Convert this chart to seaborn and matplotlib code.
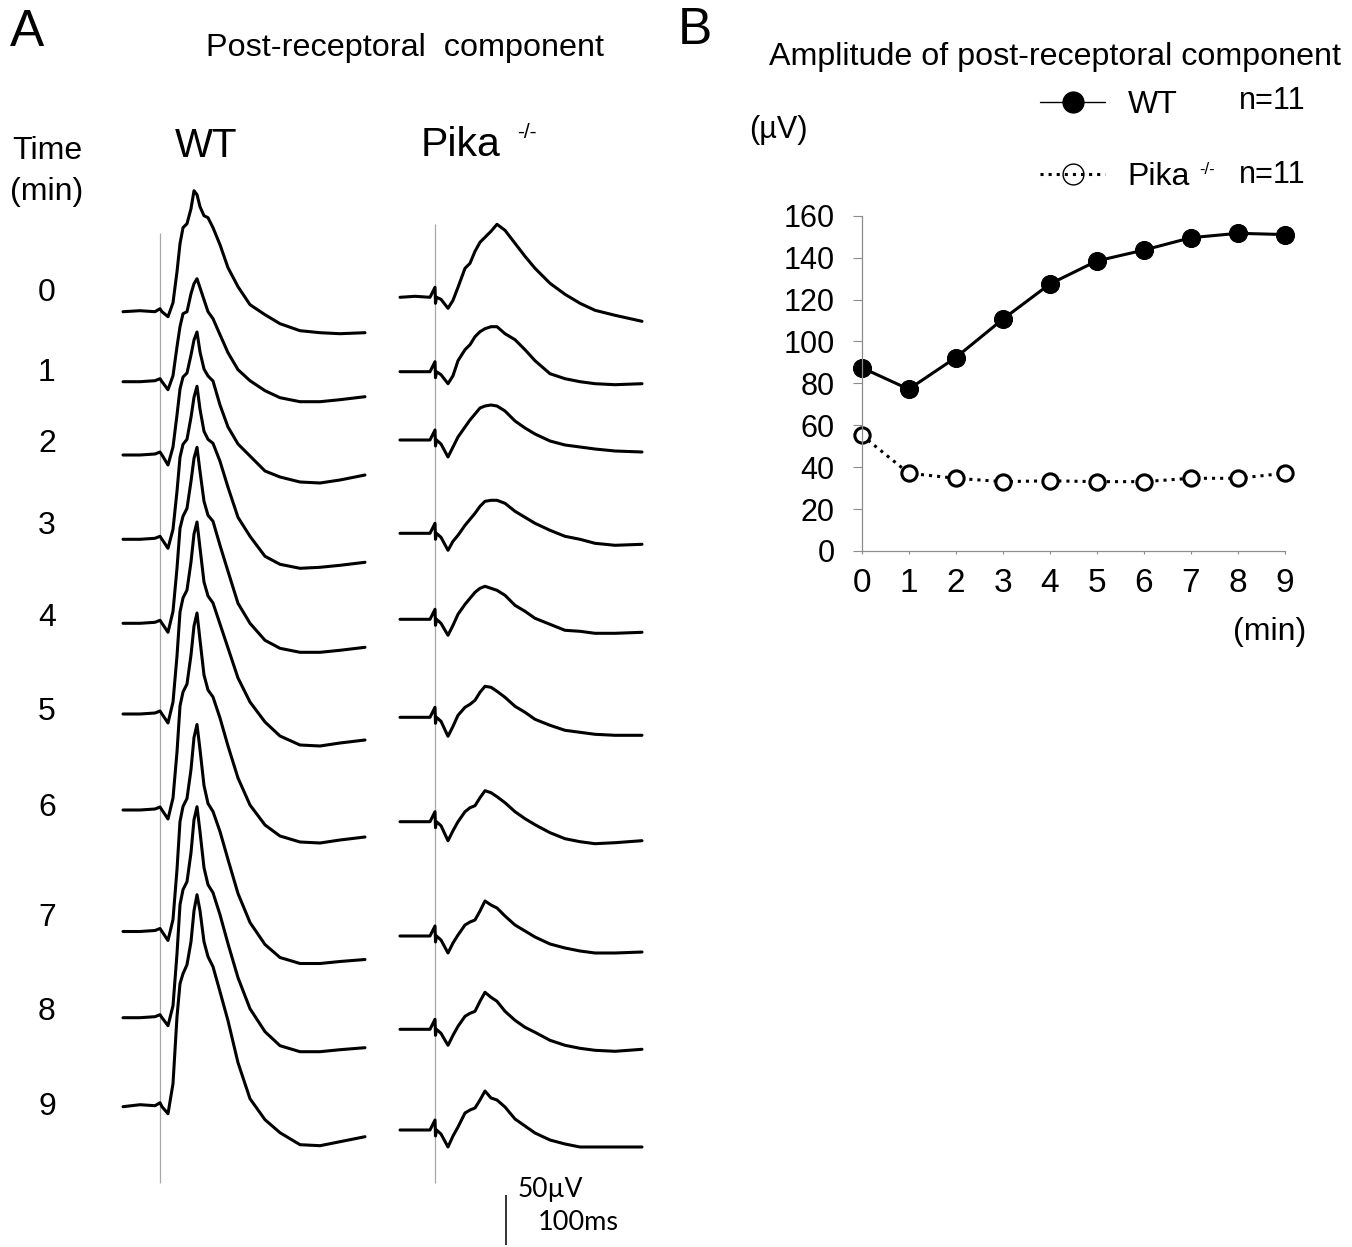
import numpy as np
import matplotlib
matplotlib.use("Agg")
import matplotlib.pyplot as plt
import seaborn as sns
from matplotlib.lines import Line2D

# ---------------- Panel B data ----------------
minutes = [0, 1, 2, 3, 4, 5, 6, 7, 8, 9]
wt_amplitude = [87.5, 77.2, 92.3, 110.6, 127.4, 138.4, 143.6, 149.5, 151.6, 151.0]
pika_amplitude = [55.3, 37.1, 34.7, 33.1, 33.5, 33.1, 33.1, 34.7, 34.7, 37.1]
y_ticks = [0, 20, 40, 60, 80, 100, 120, 140, 160]
x_ticks = [0, 1, 2, 3, 4, 5, 6, 7, 8, 9]

# ---------------- Panel A data (ERG traces, ms vs uV) ----------------
t_wt = [-37, -20, -5, 0, 2, 8, 13, 17, 20, 23, 27, 31, 34, 37, 40, 44, 48, 53,
        60, 68, 78, 90, 105, 120, 140, 160, 180, 205]
wt_0 = [0, 1, 0, 3, 0, -5, 9, 40, 68, 84, 88, 103, 121, 117, 105, 96, 94, 84, 67, 44, 25, 7, -3, -12, -19, -21, -22, -21]
wt_1 = [0, 0, 1, 3, 0, -8, 6, 35, 55, 68, 70, 88, 98, 103, 94, 82, 70, 63, 47, 29, 12, 1, -9, -16, -20, -20, -18, -15]
wt_2 = [0, 0, 1, 3, 0, -10, 8, 40, 66, 78, 82, 100, 115, 123, 103, 86, 79, 74, 50, 28, 11, -1, -16, -22, -27, -28, -25, -20]
wt_3 = [0, 0, 1, 3, 0, -9, 10, 48, 82, 95, 100, 122, 142, 153, 130, 108, 100, 96, 78, 52, 22, 3, -17, -25, -29, -28, -26, -23]
wt_4 = [0, 0, 1, 3, 0, -9, 12, 55, 95, 107, 115, 142, 165, 176, 152, 122, 108, 102, 78, 52, 20, 0, -17, -25, -29, -29, -27, -24]
wt_5 = [0, 0, 1, 3, 0, -9, 12, 58, 102, 116, 124, 152, 180, 192, 166, 132, 118, 111, 90, 66, 36, 12, -8, -22, -31, -32, -29, -26]
wt_6 = [0, 0, 1, 3, 0, -9, 12, 58, 104, 118, 126, 155, 184, 197, 170, 135, 120, 113, 92, 64, 32, 5, -15, -26, -32, -33, -30, -27]
wt_7 = [0, 0, 1, 3, 0, -9, 12, 62, 110, 125, 133, 162, 194, 207, 182, 146, 128, 120, 100, 72, 38, 9, -13, -26, -32, -32, -30, -28]
wt_8 = [0, 0, 1, 3, 0, -8, 12, 64, 113, 128, 136, 165, 198, 211, 186, 150, 133, 125, 103, 74, 40, 9, -14, -28, -34, -34, -32, -30]
wt_9 = [0, 2, 1, 4, 0, -7, 23, 90, 123, 133, 142, 165, 196, 212, 196, 165, 150, 140, 115, 86, 44, 8, -13, -26, -38, -39, -35, -30]

t_pika = [-35, -20, -5, 0, 0.5, 1.5, 6, 13, 18, 23, 30, 35, 40, 45, 50, 56, 62, 70,
          80, 90, 100, 115, 130, 145, 160, 180, 207]
pika_0 = [0, 1, 0, 10, -6, 0, -2, -11, -3, 10, 29, 34, 46, 55, 60, 66, 73, 67, 54, 41, 29, 14, 3, -6, -13, -18, -24]
pika_1 = [0, 0, 0, 10, -6, 0, -3, -12, -4, 11, 22, 27, 35, 40, 43, 45, 45, 38, 32, 22, 11, -2, -7, -10, -12, -13, -12]
pika_2 = [0, 0, 0, 10, -6, 0, -4, -17, -7, 3, 13, 20, 26, 32, 34, 35, 34, 29, 19, 12, 6, -1, -5, -7, -9, -11, -12]
pika_3 = [0, 0, 0, 10, -6, 0, -4, -17, -8, -2, 8, 14, 20, 27, 32, 33, 33, 30, 22, 16, 10, 3, -3, -6, -10, -12, -11]
pika_4 = [0, 0, 0, 10, -6, 0, -4, -16, -6, 5, 15, 21, 27, 31, 33, 31, 29, 24, 14, 8, 1, -5, -11, -12, -14, -14, -13]
pika_5 = [0, 0, 0, 10, -6, 0, -4, -19, -9, 2, 10, 13, 17, 25, 31, 30, 26, 20, 11, 5, -2, -8, -13, -15, -17, -18, -18]
pika_6 = [0, 0, 0, 10, -6, 0, -4, -19, -9, 0, 10, 14, 16, 24, 31, 29, 25, 19, 10, 3, -3, -11, -17, -20, -22, -21, -19]
pika_7 = [0, 0, 0, 10, -6, 0, -4, -17, -7, 1, 11, 14, 16, 25, 35, 31, 28, 20, 11, 5, -1, -8, -12, -15, -17, -17, -16]
pika_8 = [0, 0, 0, 10, -6, 0, -4, -16, -6, 3, 13, 16, 18, 28, 37, 32, 28, 18, 9, 2, -3, -11, -16, -19, -21, -22, -20]
pika_9 = [0, 0, 0, 10, -6, 0, -4, -17, -6, 3, 17, 20, 22, 30, 39, 32, 30, 23, 11, 4, -3, -10, -14, -17, -17, -17, -17]

time_labels = ["0", "1", "2", "3", "4", "5", "6", "7", "8", "9"]

# ---------------- layout (pixels in a 1352x1247 canvas) ----------------
W, H = 1352, 1247
wt_base_px = [311.7, 381.7, 455, 539.3, 623.3, 714, 810, 931.5, 1017.7, 1106.7]
pika_base_px = [297.3, 371.7, 440, 533.3, 619.3, 717.3, 821.7, 936, 1029.3, 1130]
label_y_px = [293, 373, 444, 526, 618, 712, 808, 918, 1012, 1107]
PIKA_X_OFFSET = 275

sns.set_theme(style="white")
plt.rcParams['font.family'] = ['Liberation Sans', 'DejaVu Sans']
for k in ['text.color', 'axes.labelcolor', 'xtick.labelcolor', 'ytick.labelcolor']:
    plt.rcParams[k] = 'black'

fig = plt.figure(figsize=(W / 100, H / 100), dpi=100)


def ftext(x, y, s, size, **kw):
    kw.setdefault('ha', 'center')
    kw.setdefault('va', 'center')
    fig.text(x / W, 1 - y / H, s, fontsize=size, color='black', **kw)


# ---------------- Panel A ----------------
axA = fig.add_axes([100 / W, 0, 580 / W, 1097 / H])
axA.set_xlim(-60, 520)
axA.set_ylim(0, 1097)
axA.axis('off')

wt_traces = [wt_0, wt_1, wt_2, wt_3, wt_4, wt_5, wt_6, wt_7, wt_8, wt_9]
pika_traces = [pika_0, pika_1, pika_2, pika_3, pika_4, pika_5, pika_6, pika_7, pika_8, pika_9]

# stimulus markers
axA.vlines(0, H - 1183, H - 232.7, color='#a8a8a8', lw=0.9)
axA.vlines(PIKA_X_OFFSET, H - 1183, H - 224, color='#a8a8a8', lw=0.9)

for tr, b in zip(wt_traces, wt_base_px):
    sns.lineplot(x=np.array(t_wt, float), y=(H - b) + np.array(tr, float), ax=axA,
                 color='black', lw=2.2, sort=False, estimator=None,
                 solid_joinstyle='round', solid_capstyle='round')
for tr, b in zip(pika_traces, pika_base_px):
    sns.lineplot(x=np.array(t_pika, float) + PIKA_X_OFFSET, y=(H - b) + np.array(tr, float), ax=axA,
                 color='black', lw=2.2, sort=False, estimator=None,
                 solid_joinstyle='round', solid_capstyle='round')

# scale bar (50 uV)
axA.vlines(345.7, H - 1245, H - 1195, color='#333333', lw=1.4)
ftext(550, 1189, "50µV", 19, family=['Lato', 'DejaVu Sans'])
ftext(578, 1222, "100ms", 19.5, family=['Lato', 'DejaVu Sans'])

ftext(27, 33, "A", 37)
ftext(405, 48, "Post-receptoral  component", 23.3)
ftext(206, 146, "WT", 29)
ftext(461, 145, "Pika", 29.5)
ftext(527, 133, "-/-", 15)
ftext(47, 151, "Time", 23)
ftext(47, 192, "(min)", 23)
for lab, y in zip(time_labels, label_y_px):
    ftext(47, y, lab, 23)

# ---------------- Panel B ----------------
axB = fig.add_axes([861.7 / W, 1 - 551 / H, (1285 - 861.7) / W, (551 - 215.7) / H])
sns.lineplot(x=minutes, y=wt_amplitude, ax=axB, color='black', lw=2.2, marker='o',
             markersize=13, markerfacecolor='black', markeredgecolor='black', clip_on=False)
sns.lineplot(x=minutes, y=pika_amplitude, ax=axB, color='black', lw=2.2, linestyle=':',
             marker='o', markersize=11, markerfacecolor='white', markeredgecolor='black',
             markeredgewidth=2.2, clip_on=False)
axB.set_xlim(0, 9)
axB.set_ylim(0, 160)
axB.set_xticks(x_ticks)
axB.set_yticks(y_ticks)
axB.set_xlabel('')
axB.set_ylabel('')
for s in ['top', 'right']:
    axB.spines[s].set_visible(False)
for s in ['left', 'bottom']:
    axB.spines[s].set_color('#8c8c8c')
    axB.spines[s].set_linewidth(0.9)
axB.tick_params(axis='y', direction='out', length=6.5, width=0.8, color='#8c8c8c',
                labelsize=22, pad=13, left=True, labelcolor='black')
axB.tick_params(axis='x', direction='out', length=2.5, width=0.8, color='#8c8c8c',
                labelsize=24, pad=10, bottom=True, labelcolor='black')

h_wt = Line2D([], [], color='black', lw=1.0, marker='o', ms=15, mfc='black', mec='black')
h_pk = Line2D([], [], color='black', lw=2.2, ls=':', marker='o', ms=15, mfc='none',
              mec='black', mew=1.0)
leg = axB.legend([h_wt, h_pk], ['WT', 'Pika'], loc='center left',
                 bbox_to_anchor=(1040 / W, 1 - 141 / H), bbox_transform=fig.transFigure,
                 frameon=False, fontsize=23, handlelength=2.05, handletextpad=0.7,
                 labelspacing=1.3, borderpad=0, borderaxespad=0)
for txt in leg.get_texts():
    txt.set_color('black')
ftext(1207, 170, "-/-", 12)
ftext(1272, 101, "n=11", 22)
ftext(1272, 175, "n=11", 22)

ftext(695, 31, "B", 37)
ftext(1055, 57, "Amplitude of post-receptoral component", 23.2)
ftext(778, 130, "(µV)", 22)
ftext(1270, 632, "(min)", 23)

fig.savefig("out.png", dpi=100)
